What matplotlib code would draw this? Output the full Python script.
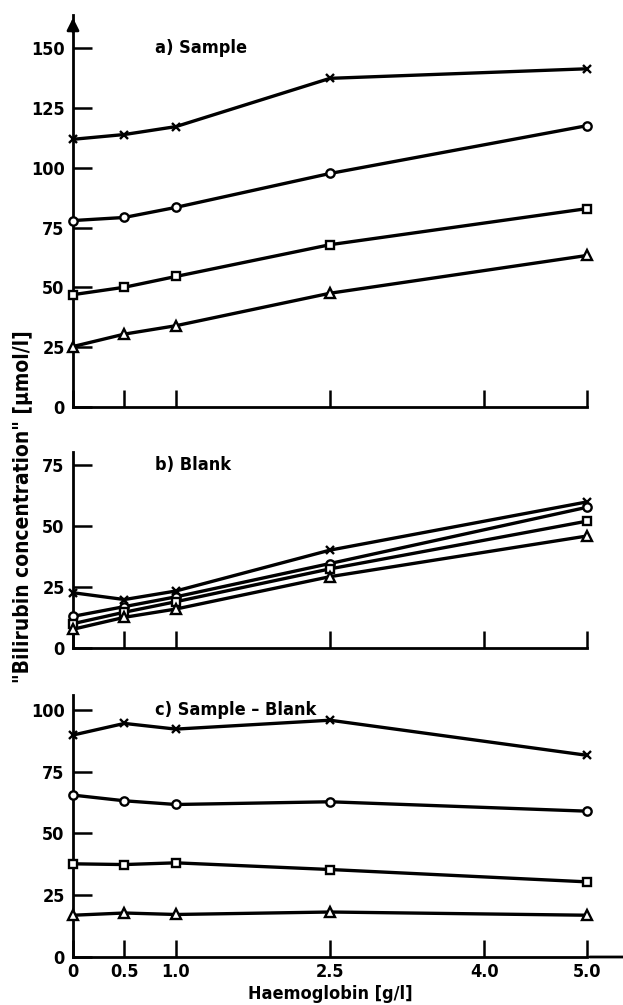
import matplotlib
matplotlib.use("Agg")
import matplotlib.pyplot as plt

plt.rcParams['font.family'] = ['DejaVu Sans']
plt.rcParams['font.weight'] = 'bold'
plt.rcParams['font.stretch'] = 'condensed'

# Haemoglobin (g/l)
hb = [0, 0.5, 1.0, 2.5, 5.0]
xticks = [0, 0.5, 1.0, 2.5, 4.0, 5.0]
xticklabels = ['0', '0.5', '1.0', '2.5', '4.0', '5.0']

# a) Sample
a_cross = [112, 114, 117.3, 137.5, 141.5]
a_circle = [78, 79.3, 83.5, 97.7, 117.7]
a_square = [47, 50.1, 54.6, 67.9, 83]
a_tri = [25.3, 30.5, 34, 47.6, 63.4]

# b) Blank
b_cross = [22.7, 19.9, 23.4, 40.2, 60]
b_circle = [13, 17, 21, 34.7, 57.8]
b_square = [10, 14.7, 19, 32.5, 52.1]
b_tri = [7.7, 12.6, 16, 29.3, 46]

# c) Sample - Blank
c_cross = [89.8, 94.5, 92.2, 95.8, 81.6]
c_circle = [65.5, 63.2, 61.7, 62.8, 59]
c_square = [37.7, 37.4, 38.1, 35.4, 30.4]
c_tri = [16.9, 17.8, 17.2, 18.2, 16.9]

fig = plt.figure(figsize=(6.23, 10.05), dpi=100)
W, H = 623, 1005
x0, x1 = 73, 587

def make_ax(y_zero, y_top):
    return fig.add_axes([x0 / W, 1 - y_zero / H, (x1 - x0) / W, (y_zero - y_top) / H])

ax_a = make_ax(407, 15)
ax_b = make_ax(648, 452)
ax_c = make_ax(957, 695)

panels = [
    (ax_a, [a_cross, a_circle, a_square, a_tri], 164, [0, 25, 50, 75, 100, 125, 150], 'a) Sample', 150),
    (ax_b, [b_cross, b_circle, b_square, b_tri], 80.5, [0, 25, 50, 75], 'b) Blank', 75),
    (ax_c, [c_cross, c_circle, c_square, c_tri], 106, [0, 25, 50, 75, 100], 'c) Sample \u2013 Blank', 100),
]
markers = ['x', 'o', 's', '^']
msizes = [5.5, 6, 6, 6.5]

for ax, series, ytop, yticks, title, ty in panels:
    for vals, m, ms in zip(series, markers, msizes):
        ax.plot(hb, vals, color='black', lw=2.4, marker=m, ms=ms,
                mfc='white', mec='black', mew=1.7, clip_on=False, zorder=3)
    ax.set_xlim(0, 5.0)
    ax.set_ylim(0, ytop)
    ax.spines['top'].set_visible(False)
    ax.spines['right'].set_visible(False)
    for s in ['left', 'bottom']:
        ax.spines[s].set_linewidth(2)
    ax.set_yticks(yticks)
    ax.set_xticks(xticks)
    ax.tick_params(axis='y', direction='in', length=14, width=1.8, labelsize=13, pad=6)
    ax.tick_params(axis='x', direction='in', length=12, width=1.8, labelsize=13, pad=4)
    ax.text(0.8, ty, title, fontsize=13, fontweight='bold', va='center')
    if ax is not ax_c:
        ax.set_xticklabels([])
    else:
        ax.set_xticklabels(xticklabels)

# arrow heads on the axes
ax_a.annotate('', xy=(0, 1.0), xycoords='axes fraction', xytext=(0, 0.95),
              arrowprops=dict(arrowstyle='-|>', color='black', lw=2, mutation_scale=18))
ax_c.annotate('', xy=(5.6, 0), xycoords='data', xytext=(5.0, 0),
              arrowprops=dict(arrowstyle='-|>', color='black', lw=2, mutation_scale=18),
              annotation_clip=False)

ax_c.set_xlabel('Haemoglobin [g/l]', fontsize=13, fontweight='bold', labelpad=3)
fig.text(23 / W, 1 - 507 / H, '"Bilirubin concentration" [\u00b5mol/l]', rotation=90,
         fontsize=15, fontweight='bold', ha='center', va='center')

fig.savefig('out.png', dpi=100)
